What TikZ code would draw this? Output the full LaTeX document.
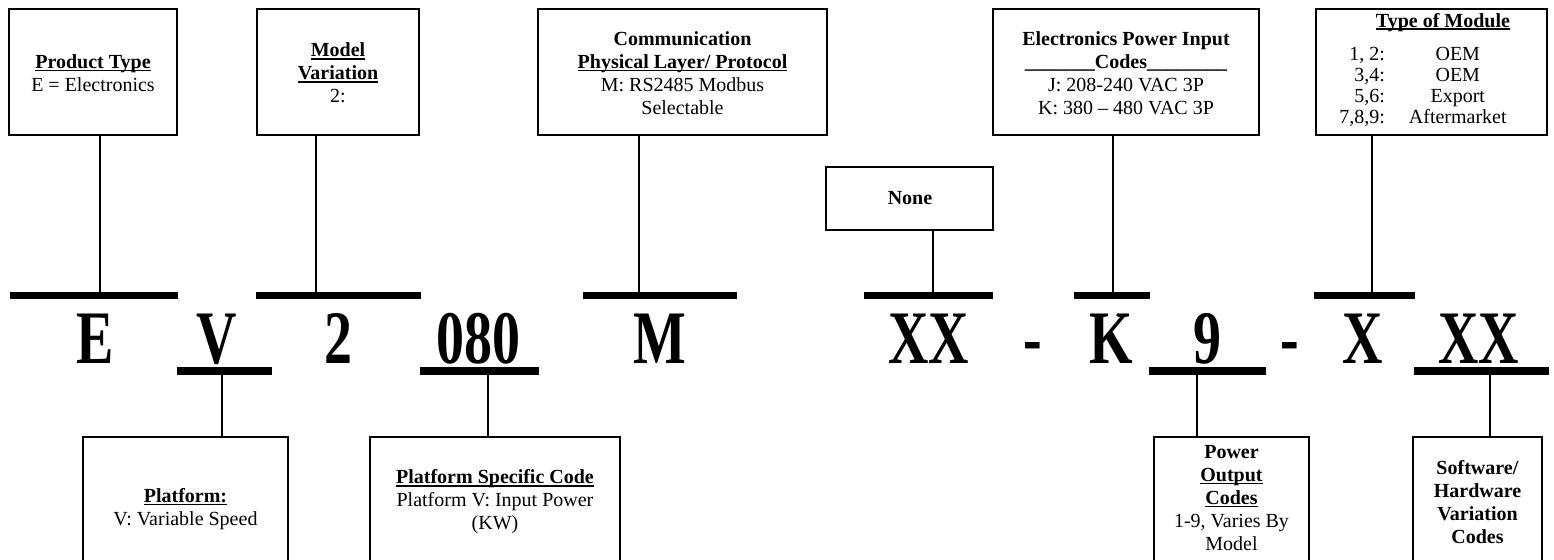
\documentclass[tikz,border=0pt]{standalone}
\usepackage{fontspec}
\setmainfont{Liberation Serif}
\usepackage{graphicx}
\usetikzlibrary{fit}
% condensed bold characters of the part number
\newcommand\pncode[1]{\scalebox{0.74}[1]{\fontsize{37.8}{40}\selectfont\bfseries #1}}
% bold heading with a word-processor style underline close to the baseline
\newcommand\hd[1]{\textbf{\setbox0\hbox{#1}\rlap{\rule[-1.4pt]{\wd0}{0.75pt}}\box0}}
\begin{document}
\begin{tikzpicture}[x=0.5pt,y=-0.5pt,
  box/.style={draw, line width=0.8pt, inner sep=0pt},
  bar/.style={fill=black, inner sep=0pt},
  link/.style={line width=0.8pt},
  code/.style={inner sep=0pt, anchor=base},
  txt/.style={inner sep=0pt, align=center, font=\fontsize{10}{11.5}\selectfont}]
\useasboundingbox (0,0) rectangle (1554,559);
\clip (0,0) rectangle (1554,559);

% ---- description boxes above the part number
\node[box, fit={(9,9)(177,135)}]     (prod) {};
\node[box, fit={(257,9)(419,135)}]   (model) {};
\node[box, fit={(538,9)(827,135)}]   (comm) {};
\node[box, fit={(826,167)(993,230)}] (none) {};
\node[box, fit={(993,9)(1259,135)}]  (elec) {};
\node[box, fit={(1316,9)(1547,135)}] (type) {};

\node[txt] (tprod) at (93,73) {\hd{Product Type}\\E = Electronics};
\node[txt] (tmodel) at (338,73) {\hd{Model}\\\hd{Variation}\\2:};
\node[txt] (tcomm) at (682.5,73)
  {\textbf{Communication}\\\hd{Physical Layer/ Protocol}\\M: RS2485 Modbus\\Selectable};
\node[txt] (tnone) at (910,198.5) {\textbf{None}};
\node[txt] (telec) at (1126,73)
  {\textbf{Electronics Power Input}\\\textbf{\_\_\_\_\_\_\_Codes\_\_\_\_\_\_\_\_}\\J: 208-240 VAC 3P\\K: 380 -- 480 VAC 3P};
\node[txt, anchor=base] (ttype) at (1443,27) {\hd{Type of Module}};
\node[txt, anchor=base, font=\fontsize{10}{10.5}\selectfont] (ttab) at (1423,60)
  {\begin{tabular}[t]{@{}r@{\hspace{12pt}}c@{}}
   1, 2: & OEM\\ 3,4: & OEM\\ 5,6: & Export\\ 7,8,9: & Aftermarket
  \end{tabular}};

% ---- description boxes below the part number (open at the bottom edge)
\node[box, fit={(83,437)(288,600)}]    (plat) {};
\node[box, fit={(370,437)(620,600)}]   (psc) {};
\node[box, fit={(1154,437)(1309,600)}] (pout) {};
\node[box, fit={(1413,437)(1542,600)}] (soft) {};
\node[txt] (tplat) at (185.5,509) {\hd{Platform:}\\V: Variable Speed};
\node[txt] (tpsc) at (495,502) {\hd{Platform Specific Code}\\Platform V: Input Power\\(KW)};
\node[txt] (tpout) at (1231.5,498) {\textbf{Power}\\\hd{Output}\\\hd{Codes}\\1-9, Varies By\\Model};
\node[txt] (tsoft) at (1477.5,502) {\textbf{Software/}\\\textbf{Hardware}\\\textbf{Variation}\\\textbf{Codes}};

% ---- part number characters
\node[code] (cE)   at (95,363)    {\pncode{E}};
\node[code] (cV)   at (217,363)   {\pncode{V}};
\node[code] (c2)   at (338.5,363) {\pncode{2}};
\node[code] (c080) at (478.5,363) {\pncode{080}};
\node[code] (cM)   at (659.5,363) {\pncode{M}};
\node[code] (cXa)  at (928.5,363) {\pncode{XX}};
\node[code] (dA)   at (1033,363)  {\pncode{-}};
\node[code] (cK)   at (1111.5,363){\pncode{K}};
\node[code] (c9)   at (1207.5,363){\pncode{9}};
\node[code] (dB)   at (1289.5,363){\pncode{-}};
\node[code] (cX)   at (1363,363)  {\pncode{X}};
\node[code] (cXb)  at (1478.5,363){\pncode{XX}};

% ---- thick bars over and under the characters
\node[bar, fit={(10,292)(178,299)}]     (bE) {};
\node[bar, fit={(256,292)(421,299)}]    (b2) {};
\node[bar, fit={(583,292)(737,299)}]    (bM) {};
\node[bar, fit={(864,292)(993,299)}]    (bXa) {};
\node[bar, fit={(1074,292)(1150,299)}]  (bK) {};
\node[bar, fit={(1314,292)(1415,299)}]  (bX) {};
\node[bar, fit={(177,367)(272,375)}]    (bV) {};
\node[bar, fit={(420,367)(539,375)}]    (b080) {};
\node[bar, fit={(1149,367)(1266,375)}]  (b9) {};
\node[bar, fit={(1414,367)(1549,375)}]  (bXb) {};

% ---- leader lines
\coordinate (xE) at (100,0);
\coordinate (x2) at (316,0);
\coordinate (xM) at (639,0);
\coordinate (xXa) at (933,0);
\coordinate (xK) at (1113,0);
\coordinate (xX) at (1372,0);
\coordinate (xV) at (222,0);
\coordinate (x080) at (488,0);
\coordinate (x9) at (1197,0);
\coordinate (xXb) at (1490,0);
\draw[link] (xE |- prod.south) -- (xE |- bE.north);
\draw[link] (x2 |- model.south) -- (x2 |- b2.north);
\draw[link] (xM |- comm.south) -- (xM |- bM.north);
\draw[link] (xXa |- none.south) -- (xXa |- bXa.north);
\draw[link] (xK |- elec.south) -- (xK |- bK.north);
\draw[link] (xX |- type.south) -- (xX |- bX.north);
\draw[link] (xV |- bV.south) -- (xV |- plat.north);
\draw[link] (x080 |- b080.south) -- (x080 |- psc.north);
\draw[link] (x9 |- b9.south) -- (x9 |- pout.north);
\draw[link] (xXb |- bXb.south) -- (xXb |- soft.north);
\end{tikzpicture}
\end{document}
